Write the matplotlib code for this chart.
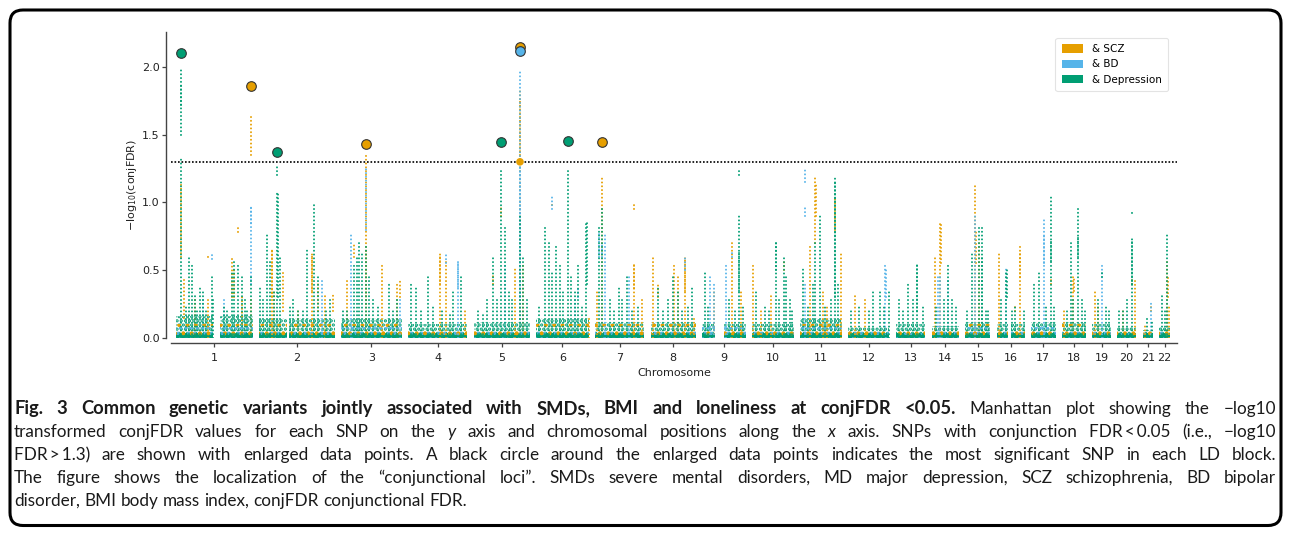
import matplotlib
matplotlib.use("Agg")
import matplotlib.pyplot as plt
from matplotlib.patches import Patch, FancyBboxPatch

# ---------------- data ----------------
CHROMS = list(range(1, 23))
CHR_FIRST_MB = [0.8, 0.0, 0.1, 0.0, 0.0, 0.2, 0.0, 0.2, 0.2, 0.1, 0.2, 0.2,
                19.1, 20.2, 20.1, 0.1, 0.0, 0.0, 0.2, 0.1, 14.6, 16.1]
CHR_LAST_MB = [249.2, 243.1, 197.9, 191.0, 180.7, 171.0, 159.1, 146.3, 141.1,
               135.5, 134.9, 133.8, 115.1, 107.3, 102.5, 90.2, 81.1, 78.0,
               59.1, 62.9, 48.1, 51.2]
# regions without SNPs (centromeres / heterochromatin): (chrom, start, end)
NO_SNP_REGIONS = [(1, 121.0, 142.0), (2, 90.0, 96.0), (9, 42.0, 70.0), (16, 36.0, 46.0)]
# solid mass of non-significant SNPs and top of the dense low-level cloud per chromosome
BASE_LEVEL = 0.035
LOW_CLOUD_TOP = [0.16, 0.15, 0.15, 0.1, 0.12, 0.15, 0.12, 0.12, 0.1, 0.1, 0.15, 0.08,
                 0.1, 0.09, 0.12, 0.1, 0.12, 0.12, 0.1, 0.08, 0.06, 0.08]
SCZ_CLOUD_TOP = [0.1, 0.1, 0.1, 0.08, 0.08, 0.1, 0.1, 0.1, 0.06, 0.08, 0.1, 0.06,
                 0.05, 0.08, 0.1, 0.08, 0.06, 0.1, 0.08, 0.06, 0.05, 0.06]
BD_CLOUD_TOP = [0.08, 0.06, 0.08, 0.05, 0.06, 0.06, 0.06, 0.05, 0.08, 0.05, 0.08, 0.06,
                0.04, 0.06, 0.08, 0.06, 0.08, 0.06, 0.06, 0.04, 0.04, 0.05]

# columns of SNPs: (chrom, pos_Mb, low -log10, high -log10)
SCZ_COLS = [
    (1, 16, 0.6, 1.15), (1, 26.6, 0.15, 0.45), (1, 62, 0, 0.3), (1, 104, 0, 0.28),
    (1, 104, 0.6, 0.62), (1, 180.5, 0.3, 0.6), (1, 188, 0.3, 0.5), (1, 200.8, 0.78, 0.82),
    (1, 212.7, 0.1, 0.3), (1, 241.8, 1.35, 1.65), (1, 241.8, 0.0, 0.3),
    (2, 41, 0, 0.66), (2, 42.2, 0.3, 0.66), (2, 48.4, 0, 0.35), (2, 78.4, 0.2, 0.48),
    (2, 125.8, 0, 0.22), (2, 170, 0, 0.62), (2, 171.2, 0.35, 0.62), (2, 190, 0.2, 0.4),
    (2, 213, 0, 0.32), (2, 237.7, 0.2, 0.32),
    (3, 21.7, 0, 0.42), (3, 43, 0.6, 0.7), (3, 81.7, 0, 1.36), (3, 83, 0.25, 0.65),
    (3, 134.6, 0, 0.55), (3, 183, 0, 0.4), (3, 190, 0.3, 0.42),
    (4, 101, 0, 0.62), (4, 102.2, 0.4, 0.62), (4, 122.6, 0, 0.58), (4, 181.6, 0, 0.2),
    (5, 63.5, 0.4, 0.47), (5, 88, 0.9, 0.96), (5, 133, 0, 0.52), (5, 149.4, 0, 1.82),
    (5, 150.6, 1.35, 1.75), (5, 158, 0, 0.55),
    (6, 52.8, 0.98, 1.0), (6, 170, 0, 0.15),
    (7, 6.5, 0, 0.34), (7, 22.6, 0, 1.18), (7, 124.8, 0.95, 1.0), (7, 124.8, 0, 0.54),
    (7, 126, 0.37, 0.54), (7, 151.6, 0, 0.3),
    (8, 6.7, 0, 0.6), (8, 22.8, 0.3, 0.4), (8, 76.6, 0, 0.54), (8, 87.3, 0, 0.47),
    (8, 109.9, 0, 0.61), (8, 111.1, 0.35, 0.6), (8, 141, 0, 0.16),
    (9, 38, 0, 0.35), (9, 97, 0, 0.72), (9, 127, 0, 0.35),
    (10, 3.3, 0, 0.556), (10, 30, 0, 0.2), (10, 62.4, 0, 0.33), (10, 102.4, 0.5, 0.57),
    (11, 31.5, 0, 0.68), (11, 49.6, 0.7, 1.2), (11, 50.8, 0.9, 1.15), (11, 74.4, 0, 0.35),
    (11, 87.3, 0, 0.25), (11, 112, 0.8, 1.05), (11, 133.4, 0, 0.62),
    (12, 21.8, 0, 0.31), (12, 54, 0, 0.3),
    (14, 30.8, 0, 0.61), (14, 48.3, 0, 0.86), (14, 49.5, 0.55, 0.85),
    (15, 53.3, 0, 1.134), (15, 54.5, 0.55, 0.8), (15, 64.3, 0, 0.72),
    (16, 6.5, 0, 0.62), (16, 60.4, 0.2, 0.25), (16, 74, 0, 0.69), (16, 75.2, 0.45, 0.62),
    (17, 65.6, 0.4, 0.45),
    (18, 5.5, 0, 0.2), (18, 36, 0, 0.46), (18, 38, 0.35, 0.46),
    (19, 7.6, 0, 0.34), (19, 18.6, 0, 0.25),
    (20, 18.5, 0, 0.22), (20, 47.5, 0.4, 0.45), (20, 59, 0, 0.42),
    (21, 22, 0, 0.1), (21, 40.4, 0.2, 0.23),
    (22, 42.9, 0, 0.56), (22, 44, 0.3, 0.45), (22, 48.5, 0, 0.25),
]
BD_COLS = [
    (1, 88, 0, 0.3), (1, 116, 0.58, 0.61), (1, 155.6, 0, 0.28), (1, 241.8, 0.4, 0.98),
    (1, 243, 0.85, 0.98),
    (2, 202, 0, 0.43),
    (3, 32, 0, 0.77), (3, 81.7, 0.8, 1.25), (3, 190, 0, 0.3),
    (4, 122.6, 0.55, 0.61), (4, 160, 0, 0.57), (4, 161.2, 0.38, 0.55),
    (5, 101, 0, 0.55), (5, 149.4, 0, 1.98), (5, 148.2, 0.3, 1.28),
    (6, 52.8, 0.95, 1.065), (6, 126, 0, 0.3), (6, 135.7, 0.3, 0.38),
    (7, 12, 0.6, 0.78), (7, 22.6, 0.6, 0.7), (7, 32, 0, 0.78), (7, 110.6, 0, 0.45),
    (8, 109.9, 0.5, 0.6),
    (9, 25, 0, 0.47), (9, 38, 0, 0.4), (9, 76.7, 0, 0.55), (9, 97, 0.6, 0.65),
    (11, 17.3, 1.15, 1.25), (11, 17.3, 0.9, 0.97), (11, 17.3, 0, 0.4),
    (12, 120.5, 0, 0.54), (12, 121.7, 0.3, 0.5),
    (14, 39.6, 0, 0.45), (14, 48.3, 0, 0.45), (14, 71.8, 0, 0.42),
    (15, 53.3, 0, 0.9),
    (16, 31.4, 0, 0.53),
    (17, 42, 0, 0.87), (17, 43.2, 0.55, 0.75),
    (19, 32.5, 0, 0.55),
    (21, 40.4, 0, 0.27),
]
DEP_COLS = [
    (1, 16, 0, 1.33), (1, 16, 1.5, 2.0), (1, 17.2, 1.72, 1.88), (1, 32, 0, 0.25),
    (1, 42.7, 0, 0.6), (1, 52.4, 0, 0.55), (1, 62, 0, 0.33), (1, 70, 0, 0.2), (1, 78, 0, 0.38),
    (1, 88, 0, 0.36), (1, 98, 0, 0.2), (1, 116, 0, 0.47), (1, 120, 0, 0.3), (1, 155.6, 0, 0.25),
    (1, 165, 0, 0.2), (1, 180.5, 0, 0.5), (1, 188, 0, 0.58), (1, 200.8, 0, 0.55),
    (1, 212.7, 0, 0.45), (1, 223, 0, 0.3), (1, 230, 0, 0.2), (1, 241.8, 0, 0.45),
    (2, 3.2, 0, 0.37), (2, 13, 0, 0.3), (2, 24.8, 0, 0.76), (2, 34, 0, 0.57), (2, 48.4, 0, 0.35),
    (2, 59, 0, 1.07), (2, 59, 1.2, 1.27), (2, 60.3, 0.3, 1.07), (2, 67.7, 0, 0.6),
    (2, 98, 0, 0.25), (2, 109.7, 0, 0.3), (2, 125.8, 0, 0.2), (2, 140, 0, 0.2),
    (2, 153.9, 0, 0.66), (2, 177.4, 0, 0.98), (2, 190, 0, 0.45), (2, 215, 0, 0.2),
    (2, 229, 0, 0.28),
    (3, 6.5, 0, 0.2), (3, 21.7, 0, 0.2), (3, 43, 0, 0.55), (3, 51.7, 0, 0.6), (3, 59, 0, 0.7),
    (3, 70, 0, 0.62), (3, 81.7, 0, 0.68), (3, 90.4, 0, 0.45), (3, 103.3, 0, 0.3),
    (3, 120, 0, 0.25), (3, 155.9, 0, 0.4), (3, 170, 0, 0.2), (3, 183, 0, 0.3),
    (4, 9.7, 0, 0.4), (4, 25.8, 0, 0.39), (4, 42, 0, 0.2), (4, 63.5, 0, 0.46), (4, 80.6, 0, 0.25),
    (4, 110, 0, 0.2), (4, 135, 0, 0.18), (4, 144, 0, 0.35), (4, 171, 0, 0.45),
    (5, 15, 0, 0.2), (5, 29, 0, 0.18), (5, 42, 0, 0.28), (5, 63.5, 0, 0.61), (5, 74, 0, 0.3),
    (5, 88, 0, 1.23), (5, 101, 0, 0.82), (5, 113, 0, 0.35), (5, 122.6, 0, 0.3),
    (5, 149.4, 0, 0.9), (5, 158, 0, 0.6), (5, 171, 0, 0.3),
    (6, 9.9, 0, 0.25), (6, 28, 0, 0.83), (6, 42, 0, 0.72), (6, 52.8, 0, 0.5), (6, 65.7, 0, 0.68),
    (6, 77.6, 0, 0.55), (6, 87, 0, 0.35), (6, 102.5, 0, 1.255), (6, 114, 0, 0.45),
    (6, 126, 0, 0.35), (6, 135.7, 0, 0.55), (6, 150, 0, 0.25), (6, 162.5, 0, 0.856),
    (6, 163.7, 0.4, 0.85),
    (7, 12, 0, 0.82), (7, 22.6, 0, 0.97), (7, 48, 0, 0.3), (7, 60, 0, 0.2), (7, 76.5, 0, 0.38),
    (7, 87, 0, 0.3), (7, 103, 0, 0.45), (7, 118, 0, 0.22), (7, 138.7, 0, 0.25),
    (8, 22.8, 0, 0.38), (8, 38.9, 0, 0.2), (8, 55, 0, 0.3), (8, 71, 0, 0.45), (8, 87.3, 0, 0.35),
    (8, 100, 0, 0.2), (8, 120, 0, 0.25), (8, 133.4, 0, 0.37),
    (9, 8.9, 0, 0.5), (9, 20, 0, 0.25), (9, 87.3, 0, 0.3), (9, 105, 0, 0.2),
    (9, 119.6, 0, 0.92), (9, 120.8, 0.35, 0.65), (9, 119.6, 1.2, 1.23), (9, 133, 0, 0.25),
    (10, 14, 0, 0.35), (10, 42, 0, 0.25), (10, 55, 0, 0.2), (10, 76.5, 0, 0.71),
    (10, 77.7, 0.5, 0.7), (10, 87, 0, 0.3), (10, 102.4, 0, 0.6), (10, 108.8, 0, 0.45),
    (10, 121.7, 0, 0.3), (10, 130, 0, 0.2),
    (11, 9.9, 0, 0.53), (11, 25, 0, 0.25), (11, 42, 0, 0.4), (11, 49.6, 0, 0.7),
    (11, 65.7, 0, 0.9), (11, 80, 0, 0.25), (11, 100, 0, 0.3), (11, 112, 0, 1.196),
    (11, 113.2, 0.3, 1.15), (11, 122.8, 0, 0.4),
    (12, 9.9, 0, 0.2), (12, 35.7, 0, 0.25), (12, 68, 0, 0.2), (12, 80.8, 0, 0.36),
    (12, 102.5, 0, 0.35), (12, 115, 0, 0.25), (12, 132.5, 0, 0.35),
    (13, 31, 0, 0.28), (13, 41.7, 0, 0.2), (13, 57.8, 0, 0.41), (13, 74, 0, 0.3),
    (13, 87.8, 0, 0.55), (13, 89, 0.2, 0.55), (13, 106, 0, 0.25),
    (14, 35, 0, 0.25), (14, 59, 0, 0.3), (14, 71.8, 0, 0.54), (14, 84.7, 0, 0.3),
    (14, 98.6, 0, 0.25),
    (15, 26.6, 0, 0.2), (15, 42.7, 0, 0.635), (15, 64.3, 0, 0.82), (15, 75, 0, 0.82),
    (15, 76.2, 0, 0.6), (15, 87.8, 0, 0.22), (15, 95, 0, 0.2),
    (16, 15, 0, 0.3), (16, 31.4, 0, 0.5), (16, 33, 0.3, 0.5), (16, 51, 0, 0.2),
    (16, 60.4, 0, 0.25), (16, 87, 0, 0.2),
    (17, 11.8, 0, 0.41), (17, 28, 0, 0.49), (17, 50, 0, 0.25), (17, 65.6, 0, 1.05),
    (17, 66.8, 0.57, 0.72), (17, 76.5, 0, 0.25),
    (18, 15, 0, 0.2), (18, 30, 0, 0.72), (18, 36, 0, 0.3), (18, 51.6, 0, 0.97),
    (18, 52.8, 0.6, 0.75), (18, 64.5, 0, 0.3), (18, 75, 0, 0.2),
    (19, 18.6, 0, 0.3), (19, 32.5, 0.45, 0.5), (19, 45.4, 0, 0.25), (19, 54, 0, 0.2),
    (20, 8, 0, 0.2), (20, 18.5, 0, 0.2), (20, 32.4, 0, 0.28), (20, 47.5, 0, 0.73),
    (20, 48.7, 0.4, 0.73), (20, 47.5, 0.92, 0.93),
    (21, 30, 0, 0.15), (21, 45, 0, 0.12),
    (22, 24.8, 0, 0.31), (22, 35, 0, 0.2), (22, 42.9, 0, 0.76),
]

# lead SNPs (most significant SNP in each LD block)
LEAD_CHR = [1, 1, 2, 3, 5, 5, 5, 6, 7]
LEAD_POS = [16.0, 241.8, 59.0, 81.7, 88.0, 149.4, 149.4, 102.5, 22.6]
LEAD_Y = [2.105, 1.86, 1.37, 1.43, 1.445, 2.148, 2.118, 1.45, 1.447]
LEAD_TRAIT = ["Depression", "SCZ", "Depression", "SCZ", "Depression", "SCZ", "BD",
              "Depression", "SCZ"]
# significant, non-lead enlarged SNP
SIG_CHR = [5]
SIG_POS = [149.4]
SIG_Y = [1.30]
SIG_TRAIT = ["SCZ"]

THRESHOLD = 1.3
TRAITS = ["SCZ", "BD", "Depression"]
LEGEND_LABELS = ["& SCZ", "& BD", "& Depression"]
COLORS = {"SCZ": "#E69F00", "BD": "#56B4E9", "Depression": "#009E73"}

CAPTION_LINES = [
    [("Fig. 3 Common genetic variants jointly associated with SMDs, BMI and loneliness at conjFDR <0.05.", "bold"),
     ("Manhattan plot showing the \u2212log10", "normal")],
    [("transformed conjFDR values for each SNP on the", "normal"), ("y", "italic"),
     ("axis and chromosomal positions along the", "normal"), ("x", "italic"),
     ("axis. SNPs with conjunction FDR\u2009<\u20090.05 (i.e., \u2212log10", "normal")],
    [("FDR\u2009>\u20091.3) are shown with enlarged data points. A black circle around the enlarged data points indicates the most significant SNP in each LD block.", "normal")],
    [("The figure shows the localization of the \u201cconjunctional loci\u201d. SMDs severe mental disorders, MD major depression, SCZ schizophrenia, BD bipolar", "normal")],
    [("disorder, BMI body mass index, conjFDR conjunctional FDR.", "normal")],
]

# ---------------- layout ----------------
W, H = 1290, 534
GAP_MB = 20.0
offsets = {}
acc = 0.0
for c, f, l in zip(CHROMS, CHR_FIRST_MB, CHR_LAST_MB):
    offsets[c] = acc - f
    acc += (l - f) + GAP_MB


def gx(c, pos):
    return offsets[c] + pos


def chrom_segments(c, f, l):
    segs = [(f, l)]
    for (gc, gs, ge) in NO_SNP_REGIONS:
        if gc == c:
            segs = [(f, gs), (ge, l)]
    return segs


plt.rcParams["hatch.linewidth"] = 1.6
fig = plt.figure(figsize=(W / 100, H / 100), dpi=100)
ax = fig.add_axes([171 / W, 1 - 338 / H, (1177 - 171) / W, (338 - 32) / H])
ax.set_xlim(-16, 3229)
ax.set_ylim(0, 2.258)

# dense base of non-significant SNPs
for c, f, l, top, stop, btop in zip(CHROMS, CHR_FIRST_MB, CHR_LAST_MB, LOW_CLOUD_TOP,
                                    SCZ_CLOUD_TOP, BD_CLOUD_TOP):
    for s, e in chrom_segments(c, f, l):
        xs = [gx(c, s), gx(c, e)]
        ax.fill_between(xs, 0, BASE_LEVEL, color=COLORS["Depression"], lw=0, zorder=1)
        ax.fill_between(xs, BASE_LEVEL, top, facecolor="none",
                        edgecolor=COLORS["Depression"], hatch="....", lw=0, zorder=1)
        ax.fill_between(xs, 0, stop, facecolor="none", edgecolor=COLORS["SCZ"],
                        hatch="..", lw=0, zorder=1.2)
        ax.fill_between(xs, 0, btop, facecolor="none", edgecolor=COLORS["BD"],
                        hatch="...", lw=0, zorder=1.1)

dot_style = dict(lw=1.4, linestyle=(0, (0.05, 1.9)), dash_capstyle="round", zorder=2)
for trait, cols in zip(TRAITS, [SCZ_COLS, BD_COLS, DEP_COLS]):
    for (c, pos, lo, hi) in cols:
        x = gx(c, pos)
        ax.plot([x, x], [lo, hi], color=COLORS[trait], **dot_style)

ax.axhline(THRESHOLD, color="black", lw=1.2, linestyle=(0, (1, 1.1)), zorder=3)

for c, p, y, t in zip(SIG_CHR, SIG_POS, SIG_Y, SIG_TRAIT):
    ax.scatter([gx(c, p)], [y], s=30, color=COLORS[t], edgecolors="none", zorder=4,
               clip_on=False)
for c, p, y, t in zip(LEAD_CHR, LEAD_POS, LEAD_Y, LEAD_TRAIT):
    ax.scatter([gx(c, p)], [y], s=48, color=COLORS[t], edgecolors="#333333",
               linewidths=0.8, zorder=5, clip_on=False)

# axes styling
for side in ["top", "right"]:
    ax.spines[side].set_visible(False)
for side in ["left", "bottom"]:
    ax.spines[side].set_position(("outward", 3.6))
    ax.spines[side].set_color("#444444")
    ax.spines[side].set_linewidth(1.0)

centers = [gx(c, (f + l) / 2) for c, f, l in zip(CHROMS, CHR_FIRST_MB, CHR_LAST_MB)]
ax.set_xticks(centers)
ax.set_xticklabels([str(c) for c in CHROMS])
ax.set_yticks([0, 0.5, 1.0, 1.5, 2.0])
ax.set_yticklabels(["0.0", "0.5", "1.0", "1.5", "2.0"])
ax.tick_params(axis="both", labelsize=8, colors="#444444", labelcolor="#222222",
               length=3, width=0.9)
ax.tick_params(axis="y", pad=1.5)
ax.tick_params(axis="x", pad=4.5)
ax.set_xlabel("Chromosome", fontsize=8, color="#222222", labelpad=3)
ax.set_ylabel(r"$-$log$_{10}$(conjFDR)", fontsize=8, color="#222222", labelpad=2)

handles = [Patch(facecolor=COLORS[t], edgecolor="none") for t in TRAITS]
leg = ax.legend(handles, LEGEND_LABELS, loc="upper right",
                bbox_to_anchor=(1168 / W, 1 - 38 / H), bbox_transform=fig.transFigure,
                borderaxespad=0, fontsize=7.5, frameon=True, fancybox=True,
                handlelength=2.0, handleheight=0.9, labelspacing=0.5, borderpad=0.6,
                handletextpad=0.9)
leg.get_frame().set_edgecolor("#dddddd")
leg.get_frame().set_linewidth(0.8)

# outer rounded border
border = FancyBboxPatch((10 / 100, 8.5 / 100), (1281 - 10) / 100, (525.5 - 10) / 100,
                        boxstyle="round,pad=0,rounding_size=0.13",
                        transform=fig.dpi_scale_trans, facecolor="none",
                        edgecolor="black", linewidth=2.2)
fig.add_artist(border)

# caption with justified lines
renderer = fig.canvas.get_renderer()
CAP_FS = {"normal": 12.3, "italic": 12.3, "bold": 13.2}
CAP_FAMILY = ["Lato", "DejaVu Sans"]
cap_left, cap_right = 14, 1276
cap_base0, cap_step = 414, 23.0


def make_text(s, style):
    return fig.text(0, 0, s, fontsize=CAP_FS[style], family=CAP_FAMILY,
                    weight="bold" if style == "bold" else "normal",
                    style="italic" if style == "italic" else "normal",
                    va="baseline", ha="left", color="#1a1a1a")


tmp1 = make_text("a a", "normal")
tmp2 = make_text("aa", "normal")
space_w = tmp1.get_window_extent(renderer).width - tmp2.get_window_extent(renderer).width
tmp1.remove()
tmp2.remove()

for i, line in enumerate(CAPTION_LINES):
    baseline = cap_base0 + i * cap_step
    arts, widths = [], []
    for seg, style in line:
        for word in seg.split(" "):
            t = make_text(word, style)
            arts.append(t)
            widths.append(t.get_window_extent(renderer).width)
    if i < len(CAPTION_LINES) - 1 and len(arts) > 1:
        gap = (cap_right - cap_left - sum(widths)) / (len(arts) - 1)
    else:
        gap = space_w
    x = cap_left
    for t, w in zip(arts, widths):
        t.set_position((x / W, 1 - baseline / H))
        x += w + gap

fig.savefig("out.png", dpi=100)
